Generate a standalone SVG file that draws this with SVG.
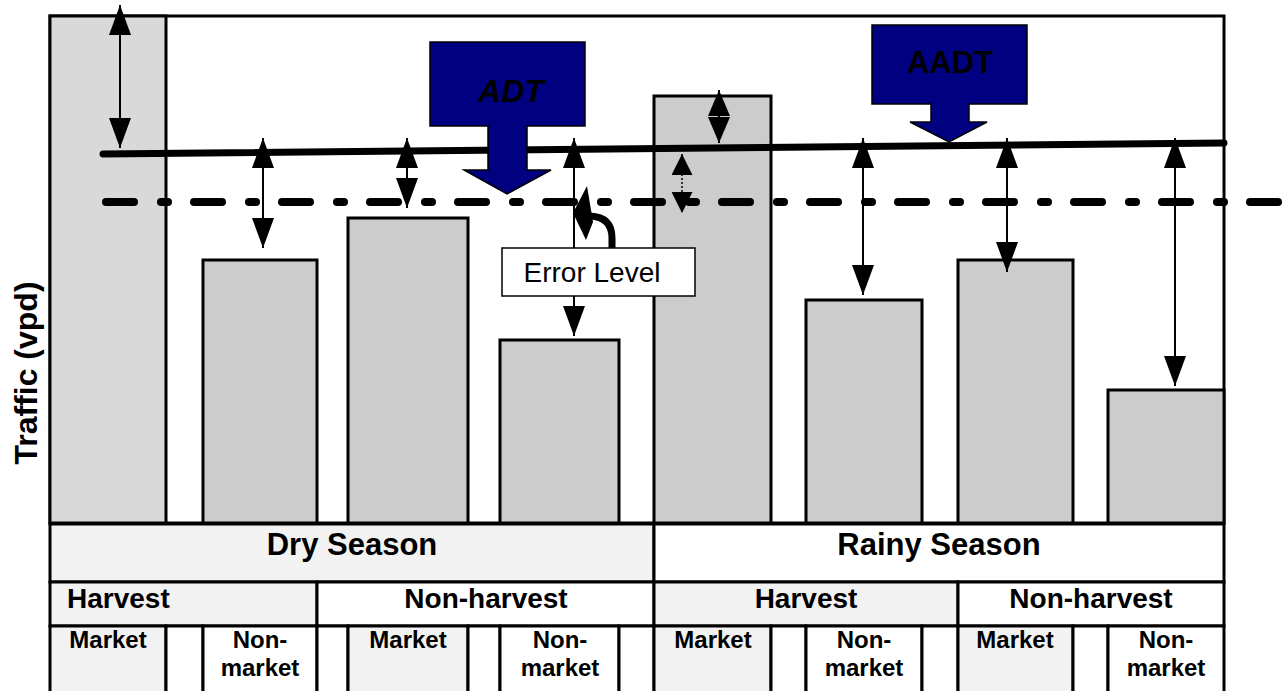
<svg xmlns="http://www.w3.org/2000/svg" width="1286" height="691" viewBox="0 0 1286 691">
<style>
.bar{fill:#cccccc;stroke:#000;stroke-width:3}
.bar1{fill:#d9d9d9;stroke:#000;stroke-width:3}
.cg{fill:#f2f2f2;stroke:#000;stroke-width:3}
.cw{fill:#ffffff;stroke:#000;stroke-width:3}
.t{font-family:"Liberation Sans",Arial,sans-serif;font-weight:bold;fill:#000}
.t1{font-size:31px;text-anchor:middle}
.t2{font-size:28px}
.t3{font-size:24px;text-anchor:middle}
.arr{stroke:#000;stroke-width:2;fill:none;marker-start:url(#h);marker-end:url(#h)}
.big{fill:#000080;stroke:#000;stroke-width:1.5}
</style>
<defs>
<marker id="h" viewBox="0 0 30 22" refX="30" refY="11" markerWidth="30" markerHeight="22" markerUnits="userSpaceOnUse" orient="auto-start-reverse"><path d="M0,0 L30,11 L0,22 z" fill="#000"/></marker>
<marker id="hs" viewBox="0 0 26 22" refX="26" refY="11" markerWidth="26" markerHeight="22" markerUnits="userSpaceOnUse" orient="auto-start-reverse"><path d="M0,0 L26,11 L0,22 z" fill="#000"/></marker>
<marker id="hd" viewBox="0 0 21 21" refX="21" refY="10.5" markerWidth="21" markerHeight="21" markerUnits="userSpaceOnUse" orient="auto-start-reverse"><path d="M0,0 L21,10.5 L0,21 z" fill="#000"/></marker>
</defs>
<rect x="0" y="0" width="1286" height="691" fill="#fff"/>

<g id="frame"><rect x="50" y="16" width="1174" height="507" fill="#fff" stroke="#000" stroke-width="3"/></g>

<g id="bars">
<rect id="bar1" class="bar1" x="50" y="16" width="116" height="507"/>
<rect id="bar2" class="bar" x="203" y="260" width="114" height="263"/>
<rect id="bar3" class="bar" x="348" y="218" width="120" height="305"/>
<rect id="bar4" class="bar" x="500" y="340" width="119" height="183"/>
<rect id="bar5" class="bar" x="654" y="96" width="117" height="427"/>
<rect id="bar6" class="bar" x="806" y="300" width="116" height="223"/>
<rect id="bar7" class="bar" x="958" y="260" width="115" height="263"/>
<rect id="bar8" class="bar" x="1108" y="390" width="116" height="133"/>
</g>

<g id="table">
<g id="row-season">
<rect class="cg" x="50" y="524" width="604" height="58"/>
<rect class="cw" x="654" y="524" width="570" height="58"/>
<text class="t t1" x="352" y="555">Dry Season</text>
<text class="t t1" x="939" y="555">Rainy Season</text>
</g>
<g id="row-harvest">
<rect class="cg" x="50" y="582" width="267" height="44"/>
<rect class="cw" x="317" y="582" width="337" height="44"/>
<rect class="cg" x="654" y="582" width="304" height="44"/>
<rect class="cw" x="958" y="582" width="266" height="44"/>
<text class="t t2" x="67" y="608">Harvest</text>
<text class="t t2" x="486" y="608" text-anchor="middle">Non-harvest</text>
<text class="t t2" x="806" y="608" text-anchor="middle">Harvest</text>
<text class="t t2" x="1091" y="608" text-anchor="middle">Non-harvest</text>
</g>
<g id="row-market">
<rect class="cg" x="50" y="626" width="116" height="70"/>
<rect class="cw" x="166" y="626" width="37" height="70"/>
<rect class="cw" x="203" y="626" width="114" height="70"/>
<rect class="cw" x="317" y="626" width="31" height="70"/>
<rect class="cg" x="348" y="626" width="120" height="70"/>
<rect class="cw" x="468" y="626" width="32" height="70"/>
<rect class="cw" x="500" y="626" width="119" height="70"/>
<rect class="cw" x="619" y="626" width="35" height="70"/>
<rect class="cg" x="654" y="626" width="117" height="70"/>
<rect class="cw" x="771" y="626" width="35" height="70"/>
<rect class="cw" x="806" y="626" width="116" height="70"/>
<rect class="cw" x="922" y="626" width="36" height="70"/>
<rect class="cg" x="958" y="626" width="115" height="70"/>
<rect class="cw" x="1073" y="626" width="35" height="70"/>
<rect class="cw" x="1108" y="626" width="116" height="70"/>
<text class="t t3" x="108" y="648">Market</text>
<text class="t t3" x="260" y="648">Non-</text><text class="t t3" x="260" y="676">market</text>
<text class="t t3" x="408" y="648">Market</text>
<text class="t t3" x="560" y="648">Non-</text><text class="t t3" x="560" y="676">market</text>
<text class="t t3" x="713" y="648">Market</text>
<text class="t t3" x="864" y="648">Non-</text><text class="t t3" x="864" y="676">market</text>
<text class="t t3" x="1015" y="648">Market</text>
<text class="t t3" x="1166" y="648">Non-</text><text class="t t3" x="1166" y="676">market</text>
</g>
</g>

<g id="axis-label"><text class="t" font-size="32" text-anchor="middle" transform="translate(37,373) rotate(-90)">Traffic (vpd)</text></g>

<g id="connectors">
<line id="aadt-line" x1="103" y1="154" x2="1224" y2="143" stroke="#000" stroke-width="7" stroke-linecap="round"/>
<line id="adt-line" x1="106" y1="202" x2="1290" y2="202" stroke="#000" stroke-width="8" stroke-linecap="round" stroke-dasharray="28 27 7 26"/>
<line class="arr" x1="120" y1="5" x2="120" y2="148"/>
<line class="arr" x1="263" y1="138" x2="263" y2="248"/>
<line class="arr" x1="407" y1="138" x2="407" y2="208"/>
<line class="arr" x1="574" y1="138" x2="574" y2="336"/>
<line x1="719" y1="90" x2="719" y2="143" stroke="#000" stroke-width="2" marker-start="url(#hs)" marker-end="url(#hs)"/>
<line x1="682" y1="154" x2="682" y2="213" stroke="#000" stroke-width="1.5" stroke-dasharray="2 2" marker-start="url(#hd)" marker-end="url(#hd)"/>
<line class="arr" x1="863" y1="138" x2="863" y2="295"/>
<line class="arr" x1="1007" y1="138" x2="1007" y2="272"/>
<line class="arr" x1="1175" y1="138" x2="1175" y2="386"/>
</g>

<g id="adt">
<polygon class="big" points="430,42 585,42 585,126 527,126 527,170 551,170 507,194 464,170 488,170 488,126 430,126"/>
<text class="t" font-size="32" font-style="italic" text-anchor="middle" x="511" y="102">ADT</text>
</g>

<g id="aadt">
<polygon class="big" points="872,25 1027,25 1027,104 969,104 969,122 987,122 949,142 910,122 931,122 931,104 872,104"/>
<text class="t" font-size="31" text-anchor="middle" x="950" y="73">AADT</text>
</g>

<g id="error-level">
<rect x="502" y="248" width="193" height="48" fill="#fff" stroke="#000" stroke-width="1.5"/>
<text font-family="'Liberation Sans',Arial,sans-serif" font-size="28" text-anchor="middle" x="592" y="282">Error Level</text>
<path d="M612,248 L612,238 Q612,217 590,216" fill="none" stroke="#000" stroke-width="7"/>
<polygon points="587,186 573,213 586,240 593,222" fill="#000"/>
</g>
</svg>
